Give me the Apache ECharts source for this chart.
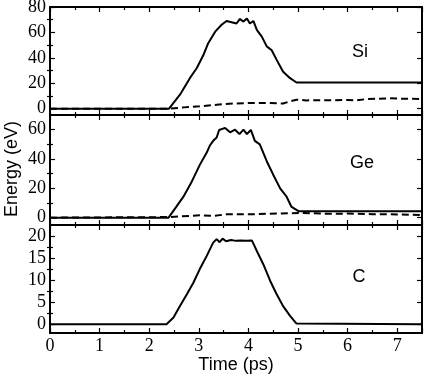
<!DOCTYPE html>
<html>
<head>
<meta charset="utf-8">
<script src="https://cdn.jsdelivr.net/npm/echarts@6/dist/echarts.min.js"></script>
<style>
  html, body { margin: 0; padding: 0; background: #fff; }
  #chart { width: 425px; height: 377px; }
</style>
</head>
<body>
<div id="chart"></div>
<script>
// time in ps, energy in eV
const siTime = [0, 2.40, 2.62, 2.72, 2.82, 2.96, 3.09, 3.19, 3.33, 3.46, 3.56, 3.66, 3.76, 3.83, 3.90, 3.97, 4.03, 4.10, 4.17, 4.27, 4.37, 4.47, 4.57, 4.70, 4.84, 4.97, 7.5];
const siSolid = [0, 0, 11, 17.5, 24, 32, 42, 51.5, 60.6, 66, 69, 68, 67, 70.6, 68.5, 71, 67, 69, 62, 56.7, 49, 46, 38.4, 29, 24, 20.6, 20.6];
const siDashTime = [0, 2.4, 2.7, 3.02, 3.36, 3.69, 4.03, 4.37, 4.7, 4.84, 4.97, 5.17, 5.6, 6.0, 6.18, 6.39, 6.85, 7.12, 7.5];
const siDashed = [0, 0, 1, 1.8, 3.1, 4, 4.5, 4.5, 4, 5.8, 7, 6.5, 6.6, 6.8, 6.5, 7.6, 8.1, 7.8, 7.6];

const geTime = [0, 2.39, 2.52, 2.69, 2.86, 3.02, 3.16, 3.22, 3.29, 3.36, 3.41, 3.53, 3.63, 3.73, 3.82, 3.90, 3.97, 4.05, 4.13, 4.23, 4.37, 4.50, 4.64, 4.77, 4.87, 5.01, 7.5];
const geSolid = [0, 0, 6.2, 14.3, 24.7, 36, 44.4, 49, 52.4, 54.7, 59.8, 61.2, 58.2, 60, 57, 60, 57, 59.8, 52.4, 50, 38.5, 29.3, 20, 14.3, 7.3, 4.4, 4.4];
const geDashTime = [0, 2.4, 3.02, 3.3, 3.56, 4.03, 4.57, 5.1, 5.6, 6.0, 6.5, 7.0, 7.5];
const geDashed = [0, 0.4, 1.6, 1.2, 2.3, 2.3, 2.8, 3.2, 2.6, 2.8, 2.4, 2.2, 1.8];

const cTime = [0, 2.35, 2.49, 2.62, 2.76, 2.89, 3.02, 3.16, 3.29, 3.36, 3.42, 3.48, 3.55, 3.65, 3.75, 3.85, 3.95, 4.07, 4.17, 4.30, 4.44, 4.57, 4.70, 4.84, 4.97, 7.5];
const cSolid = [0, 0, 1.5, 4.1, 6.8, 9.4, 12.5, 15.5, 18.5, 19.3, 18.6, 19.4, 18.8, 19.1, 18.9, 19.0, 18.9, 19.0, 16.6, 13.6, 9.8, 6.8, 4.1, 1.9, 0.15, 0];

const panelNames = ["Si", "Ge", "C"];
const yRanges = [[-5, 80], [-5, 70], [-2, 22.5]];
const yMajor = [[0, 20, 40, 60, 80], [0, 20, 40, 60], [0, 5, 10, 15, 20]];
const yMinor = [[10, 30, 50, 70], [10, 30, 50], [2.5, 7.5, 12.5, 17.5]];

const grids = [
  { left: 50, top: 7, width: 372, height: 108, outerBoundsMode: "none" },
  { left: 50, top: 115, width: 372, height: 110, outerBoundsMode: "none" },
  { left: 50, top: 225, width: 372, height: 108, outerBoundsMode: "none" },
];

const serif = '"Liberation Serif", "Times New Roman", serif';
const sans = '"Liberation Sans", Arial, sans-serif';
const lineCol = "#000";
const xAxes = [];
const yAxes = [];
grids.forEach((g, i) => {
  ["bottom", "top"].forEach((pos) => {
    xAxes.push({
      type: "value", gridIndex: i, position: pos,
      min: 0, max: 7.5, interval: 1,
      axisLine: { show: true, onZero: false, lineStyle: { color: lineCol, width: 2 } },
      axisTick: { show: true, inside: true, length: 5, lineStyle: { color: lineCol, width: 1.2 } },
      minorTick: { show: true, splitNumber: 2, length: 3, lineStyle: { color: lineCol, width: 1.2 } },
      splitLine: { show: false },
      axisLabel: {
        show: i === 2 && pos === "bottom",
        showMaxLabel: false,
        margin: 4,
        color: "#000",
        fontFamily: serif,
        fontSize: 18,
      },
    });
  });
  ["left", "right"].forEach((pos) => {
    yAxes.push({
      type: "value", gridIndex: i, position: pos,
      min: yRanges[i][0], max: yRanges[i][1],
      axisLine: { show: true, onZero: false, lineStyle: { color: lineCol, width: 2 } },
      axisTick: { show: true, inside: true, length: 5, customValues: yMajor[i], lineStyle: { color: lineCol, width: 1.2 } },
      splitLine: { show: false },
      axisLabel: {
        show: pos === "left",
        customValues: yMajor[i],
        margin: 4,
        color: "#000",
        fontFamily: serif,
        fontSize: 18,
      },
    });
    yAxes.push({
      type: "value", gridIndex: i, position: pos,
      min: yRanges[i][0], max: yRanges[i][1],
      axisLine: { show: false },
      axisTick: { show: true, inside: true, length: 3, customValues: yMinor[i], lineStyle: { color: lineCol, width: 1.2 } },
      splitLine: { show: false },
      axisLabel: { show: false },
    });
  });
});

function pairs(xs, ys) {
  return xs.map((x, k) => [x, ys[k]]);
}

function line(data, gi, dashed) {
  return {
    type: "line",
    xAxisIndex: gi * 2,
    yAxisIndex: gi * 4,
    data: data,
    showSymbol: false,
    silent: true,
    z: dashed ? 2 : 3,
    lineStyle: { color: "#000", width: 2, type: dashed ? [7, 4] : "solid" },
  };
}

function label(text, x, y, rot) {
  return {
    type: "text", x: x, y: y, rotation: rot || 0,
    style: { text: text, font: "18px " + sans, fill: "#000", align: "center", verticalAlign: "middle" },
  };
}

const chart = echarts.init(document.getElementById("chart"), null, { renderer: "canvas" });
chart.setOption({
  animation: false,
  backgroundColor: "#fff",
  grid: grids,
  xAxis: xAxes,
  yAxis: yAxes,
  series: [
    line(pairs(siDashTime, siDashed), 0, true),
    line(pairs(siTime, siSolid), 0, false),
    line(pairs(geDashTime, geDashed), 1, true),
    line(pairs(geTime, geSolid), 1, false),
    line(pairs(cTime, cSolid), 2, false),
  ],
  graphic: [
    label(panelNames[0], 360, 52),
    label(panelNames[1], 362, 163),
    label(panelNames[2], 359, 277),
    label("Time (ps)", 236, 365),
    label("Energy (eV)", 12, 169, Math.PI / 2),
  ],
});
</script>
</body>
</html>
